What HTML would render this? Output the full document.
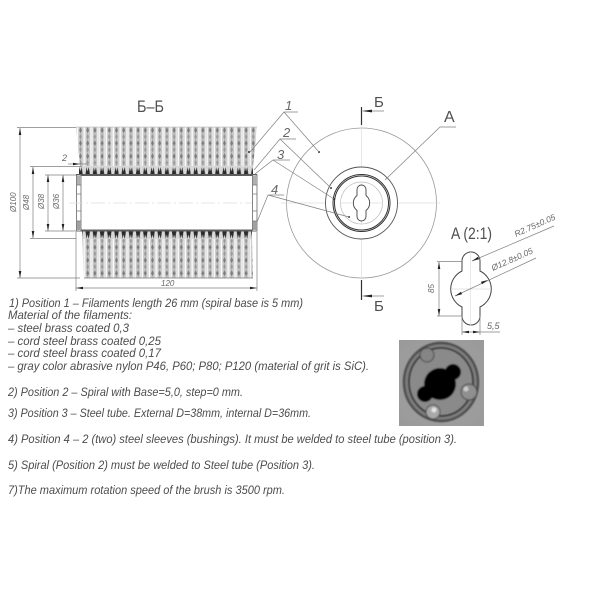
<!DOCTYPE html>
<html><head><meta charset="utf-8"><style>
html,body{margin:0;padding:0;background:#fff}
svg{display:block}
text{font-family:"Liberation Sans",sans-serif;fill:#555}
.n{font-style:italic;font-size:11.5px;fill:#4c4c4c}
.d{font-style:italic;font-size:8px;fill:#666}
.t{font-size:17px;fill:#505050}
.l{stroke:#808080;stroke-width:.7;fill:none}
</style></head><body>
<svg width="600" height="600" viewBox="0 0 600 600" xmlns="http://www.w3.org/2000/svg">
<defs>
<pattern id="br" x="77" y="127" width="7.2" height="13" patternUnits="userSpaceOnUse">
<rect width="7.2" height="13" fill="#c8c8c8"/>
<rect x="0" width="1.2" height="13" fill="#fdfdfd"/>
<rect x="5.8" width="1" height="13" fill="#f0f0f0"/>
<path d="M3.5 0L4.9 3.2L3.5 6.5L2.1 3.2Z" fill="#7c7c7c"/>
<path d="M3.5 6.5L4.7 9.7L3.5 13L2.3 9.7Z" fill="#999"/>
</pattern>
<pattern id="sp" x="77" y="166" width="7.2" height="9" patternUnits="userSpaceOnUse">
<rect width="7.2" height="9" fill="#d8d8d8"/>
<path d="M2.4 1L3.4 5.5L4.6 1L5.8 9H1.2Z" fill="#2a2a2a"/>
</pattern>
<pattern id="sp2" x="77" y="231" width="7.2" height="9" patternUnits="userSpaceOnUse">
<rect width="7.2" height="9" fill="#d8d8d8"/>
<path d="M2.4 8L3.4 3.5L4.6 8L5.8 0H1.2Z" fill="#2a2a2a"/>
</pattern>
<radialGradient id="ph" cx="50%" cy="50%" r="65%"><stop offset="0" stop-color="#a4a4a4"/><stop offset="1" stop-color="#9a9a9a"/></radialGradient>
<filter id="b1" x="-5%" y="-5%" width="110%" height="110%"><feGaussianBlur stdDeviation=".3"/></filter>
<filter id="b2" x="-5%" y="-5%" width="110%" height="110%"><feGaussianBlur stdDeviation=".7"/></filter>
<clipPath id="pc"><rect x="399" y="340" width="85" height="86"/></clipPath>
</defs>

<text class="t" x="137" y="112" textLength="27" lengthAdjust="spacingAndGlyphs">Б–Б</text>

<!-- bristles -->
<g filter="url(#b1)">
<path d="M76 127H257L253 167H80Z" fill="url(#br)"/>
<path d="M82 238H252L253 278H84Z" fill="url(#br)"/>
<rect x="79" y="166" width="174" height="9" fill="url(#sp)"/>
<rect x="82" y="231" width="170" height="8" fill="url(#sp2)"/>
</g>
<path d="M76 127H257" stroke="#aaa" stroke-width=".6"/>
<path d="M84 278H253" stroke="#777" stroke-width=".8"/>

<!-- tube -->
<rect x="76" y="175" width="181" height="55.5" fill="#fff"/>
<rect x="76" y="174" width="181" height="2" fill="#5c5c5c"/>
<rect x="76" y="229.5" width="181" height="2" fill="#5c5c5c"/>
<rect x="76.5" y="175" width="4.5" height="56" fill="#fff" stroke="#666" stroke-width=".8"/>
<rect x="252.5" y="175" width="4.5" height="56" fill="#fff" stroke="#666" stroke-width=".8"/>
<rect x="77" y="176" width="4" height="9" fill="#b0b0b0"/>
<rect x="77" y="221" width="4" height="9" fill="#a0a0a0"/>
<rect x="253" y="176" width="4" height="9" fill="#b0b0b0"/>
<rect x="253" y="221" width="4" height="9" fill="#a0a0a0"/>
<path d="M77 185H81M77 194H81M77 211H81M77 221H81M253 185H257M253 194H257M253 211H257M253 221H257" stroke="#777" stroke-width=".7"/>
<path d="M69 203H252" stroke="#ddd" stroke-width=".8" stroke-dasharray="14 3 2 3"/>

<!-- dimensions -->
<g class="l">
<path d="M17 127.5H76M17 278H80M30 166.5H82M30 238.5H76M45 175H76M45 231H76"/>
<path d="M20 128V278M33 167V238M48 175V231M63 175V231"/>
<path d="M76 232V291M257 232V291M76 288H257"/>
<path d="M68 164H87"/>
</g>
<g fill="#222">
<path d="M20 128l-1.3 7h2.6zM20 278l-1.3-7h2.6zM33 167l-1.3 7h2.6zM33 238l-1.3-7h2.6zM48 175l-1.3 7h2.6zM48 231l-1.3-7h2.6zM63 175l-1.3 7h2.6zM63 231l-1.3-7h2.6z"/>
<path d="M76 288l7-1.3v2.6zM257 288l-7-1.3v2.6zM80 164l-7-1.3v2.6z"/>
</g>
<text class="d" transform="translate(16 212) rotate(-90)">Ø100</text>
<text class="d" transform="translate(29 210) rotate(-90)">Ø48</text>
<text class="d" transform="translate(44 209) rotate(-90)">Ø38</text>
<text class="d" transform="translate(59 209) rotate(-90)">Ø36</text>
<text class="d" x="161" y="286">120</text>
<text class="d" x="62" y="161" style="font-size:9px">2</text>

<!-- right view -->
<circle cx="361.5" cy="203" r="75" fill="#fff" stroke="#999" stroke-width=".8"/>
<path d="M361.5 125V278M281 203H440" stroke="#ddd" stroke-width=".7"/>
<circle cx="361.5" cy="203" r="36" fill="#fff" stroke="#555" stroke-width=".9"/>
<circle cx="361.5" cy="203" r="28.5" fill="#fff" stroke="#333" stroke-width="1"/>
<circle cx="361.5" cy="203" r="27" fill="#fff" stroke="#333" stroke-width="1"/>
<circle cx="361.5" cy="203" r="21" fill="none" stroke="#bbb" stroke-width=".7"/>
<path d="M361.5 182V224M340 203H383" stroke="#ddd" stroke-width=".7"/>
<path d="M357 189.5a4.5 4.5 0 0 1 9 0v6a9.5 9.5 0 0 1 0 15v6a4.5 4.5 0 0 1-9 0v-6a9.5 9.5 0 0 1 0-15z" fill="#fff" stroke="#444" stroke-width=".9"/>
<circle cx="319" cy="152" r="1" fill="#333"/>
<circle cx="331" cy="188" r="1" fill="#333"/>
<circle cx="334" cy="199" r="1" fill="#333"/>
<circle cx="349" cy="217" r="1" fill="#333"/>
<circle cx="249" cy="152" r="1" fill="#333"/>

<!-- section marks -->
<path d="M361.5 107V125M361.5 280V300" stroke="#333" stroke-width="1.2"/>
<path d="M361.5 111L372 109.6V112.4ZM361.5 296L372 294.6V297.4Z" fill="#222"/>
<path d="M372 111H384M372 296H384" class="l"/>
<text class="t" x="374" y="107" style="font-size:15px">Б</text>
<text class="t" x="374" y="311" style="font-size:15px">Б</text>

<!-- leaders -->
<g class="l">
<path d="M298 112H284L250 152M284 112L319 152"/>
<path d="M296 139H280L254 170M280 139L331 188"/>
<path d="M290 160H273L255 174M273 160L334 199"/>
<path d="M284 195H268L257 222M268 195L349 217"/>
<path d="M456 127H440L385 180"/>
</g>
<text x="285" y="110" style="font-size:13px;font-style:italic;fill:#666">1</text>
<text x="283" y="137" style="font-size:13px;font-style:italic;fill:#666">2</text>
<text x="277" y="159" style="font-size:13px;font-style:italic;fill:#666">3</text>
<text x="271" y="194" style="font-size:13px;font-style:italic;fill:#666">4</text>
<text class="t" x="444" y="122" style="font-size:16px">A</text>

<!-- detail A -->
<text class="t" x="451" y="239" textLength="41" lengthAdjust="spacingAndGlyphs">A (2:1)</text>
<path d="M462 261a9 9 0 0 1 18 0v10a20 20 0 0 1 0 36v9a9 9 0 0 1-18 0v-9a20 20 0 0 1 0-36z" fill="#fff" stroke="#444" stroke-width="1"/>
<path d="M470.7 252V326M451 289H491" stroke="#ddd" stroke-width=".7"/>
<g class="l">
<path d="M437 261.5H462M437 316H462M439 262V316"/>
<path d="M462 316V335M480 316V335M462 332H500"/>
<path d="M472 261L554 226"/>
<path d="M455 296L536 258"/>
</g>
<path d="M439 262l-1.3 7h2.6zM439 316l-1.3-7h2.6zM462 332l7-1.3v2.6zM480 332l-7-1.3v2.6zM472 261l6-4.2 1 2.4zM455 296l6-4.2 1 2.4zM488 280l-6 4.2-1-2.4z" fill="#222"/>
<text class="d" transform="translate(434 293) rotate(-90)">85</text>
<text class="d" x="487" y="329" style="font-size:9px">5,5</text>
<text class="d" transform="translate(516 237) rotate(-24)" style="font-size:8.5px">R2.75±0.05</text>
<text class="d" transform="translate(493 271) rotate(-24)" style="font-size:8.5px">Ø12.8±0.05</text>

<!-- photo -->
<rect x="399" y="340" width="85" height="86" fill="url(#ph)"/>
<g clip-path="url(#pc)" filter="url(#b2)">
<ellipse cx="441" cy="382" rx="37" ry="39" fill="#7e7e7e" stroke="#4c4c4c" stroke-width="2.4"/>
<ellipse cx="441" cy="382" rx="32" ry="34" fill="#8a8a8a" stroke="#303030" stroke-width="1.8"/>
<circle cx="440" cy="384" r="16" fill="#060606"/>
<circle cx="453" cy="372" r="8" fill="#060606"/>
<circle cx="425" cy="394" r="8" fill="#060606"/>
<circle cx="427" cy="355" r="7" fill="#858585" stroke="#404040"/>
<circle cx="469" cy="392" r="8" fill="#8f8f8f" stroke="#404040"/>
<circle cx="466" cy="389" r="2.5" fill="#ccc"/>
<circle cx="433" cy="412" r="7" fill="#a8a8a8" stroke="#404040"/>
<circle cx="434" cy="410" r="2.5" fill="#e4e4e4"/>
</g>

<!-- notes -->
<text class="n" x="9" y="307" textLength="294" lengthAdjust="spacingAndGlyphs">1) Position 1 – Filaments length 26 mm (spiral base is 5 mm)</text>
<text class="n" x="8" y="319" textLength="124" lengthAdjust="spacingAndGlyphs">Material of the filaments:</text>
<text class="n" x="8" y="332" textLength="121" lengthAdjust="spacingAndGlyphs">– steel brass coated 0,3</text>
<text class="n" x="8" y="345" textLength="153" lengthAdjust="spacingAndGlyphs">– cord steel brass coated 0,25</text>
<text class="n" x="8" y="357" textLength="153" lengthAdjust="spacingAndGlyphs">– cord steel brass coated 0,17</text>
<text class="n" x="8" y="370" textLength="361" lengthAdjust="spacingAndGlyphs">– gray color abrasive nylon P46, P60; P80; P120 (material of grit is SiC).</text>
<text class="n" x="8" y="396" textLength="235" lengthAdjust="spacingAndGlyphs">2) Position 2 – Spiral with Base=5,0, step=0 mm.</text>
<text class="n" x="8" y="417" textLength="303" lengthAdjust="spacingAndGlyphs">3) Position 3 – Steel tube. External D=38mm, internal D=36mm.</text>
<text class="n" x="8" y="443" textLength="449" lengthAdjust="spacingAndGlyphs">4) Position 4 – 2 (two) steel sleeves (bushings). It must be welded to steel tube (position 3).</text>
<text class="n" x="8" y="469" textLength="307" lengthAdjust="spacingAndGlyphs">5) Spiral (Position 2) must be welded to Steel tube (Position 3).</text>
<text class="n" x="8" y="494" textLength="277" lengthAdjust="spacingAndGlyphs">7)The maximum rotation speed of the brush is 3500 rpm.</text>
</svg>
</body></html>
